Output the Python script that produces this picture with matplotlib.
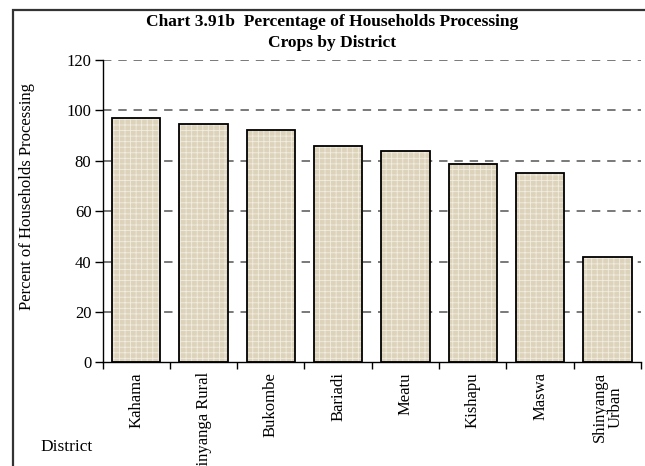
import matplotlib
matplotlib.use('Agg')
import matplotlib.pyplot as plt
import matplotlib.patches as patches

# District shares of households processing crops (%)
districts = ['Kahama', 'Shinyanga Rural', 'Bukombe', 'Bariadi', 'Meatu',
             'Kishapu', 'Maswa', 'Shinyanga\nUrban']
percent = [97.0, 94.6, 92.4, 85.7, 84.0, 78.8, 75.2, 41.9]
yticks = [0, 20, 40, 60, 80, 100, 120]

plt.rcParams['font.family'] = ['Liberation Serif', 'DejaVu Serif']
plt.rcParams['hatch.linewidth'] = 0.6

fig = plt.figure(figsize=(6.45, 4.66), dpi=100)
ax = fig.add_axes([0.159, 0.2225, 0.8349, 0.6487])

x = list(range(len(districts)))

# canvas-like fill: light weave hatch over beige, then the black outline on top
ax.bar(x, percent, width=0.72, color='#ddd3bb', edgecolor='#f2ede2',
       hatch='+++', linewidth=0, zorder=2)
ax.bar(x, percent, width=0.72, fill=False, edgecolor='black',
       linewidth=1.3, zorder=3)

ax.set_xlim(-0.5, len(districts) - 0.5)
ax.set_ylim(0, 120)
ax.set_yticks(yticks)
ax.set_yticklabels([str(t) for t in yticks], fontsize=12)

# category ticks sit between the bars, names centred under each bar
ax.set_xticks([i - 0.5 for i in range(len(districts) + 1)])
ax.set_xticklabels([])
ax.set_xticks(x, minor=True)
ax.set_xticklabels(districts, minor=True, rotation=90, fontsize=12,
                   va='top', ha='center', linespacing=1.0)
ax.tick_params(axis='x', which='minor', length=0, pad=7)
ax.tick_params(axis='x', which='major', length=5, width=1, direction='out')
ax.tick_params(axis='y', length=6, width=1, direction='out', pad=2)

for g in yticks[1:]:
    ax.axhline(g, color='#555555', linewidth=1.1, linestyle=(0, (5.5, 4.5)),
               zorder=1)

for side in ['top', 'right']:
    ax.spines[side].set_visible(False)
for side in ['left', 'bottom']:
    ax.spines[side].set_linewidth(1)
    ax.spines[side].set_color('black')

ax.set_ylabel('Percent of Households Processing', fontsize=12)
ax.yaxis.set_label_coords(-0.125, 0.55)

fig.text(0.515, 0.953, 'Chart 3.91b  Percentage of Households Processing',
         ha='center', va='center', fontsize=12.5, fontweight='bold')
fig.text(0.515, 0.908, 'Crops by District', ha='center', va='center',
         fontsize=12.5, fontweight='bold')
fig.text(0.062, 0.04, 'District', ha='left', va='center', fontsize=12.5)

# outer chart frame, open at the right and bottom
frame = patches.Rectangle((13 / 645, -0.1), 1.2, 1.1 - 10 / 466,
                          transform=fig.transFigure, fill=False,
                          edgecolor='#333333', linewidth=1.6, clip_on=False)
fig.patches.append(frame)

fig.savefig('out.png', dpi=100)
